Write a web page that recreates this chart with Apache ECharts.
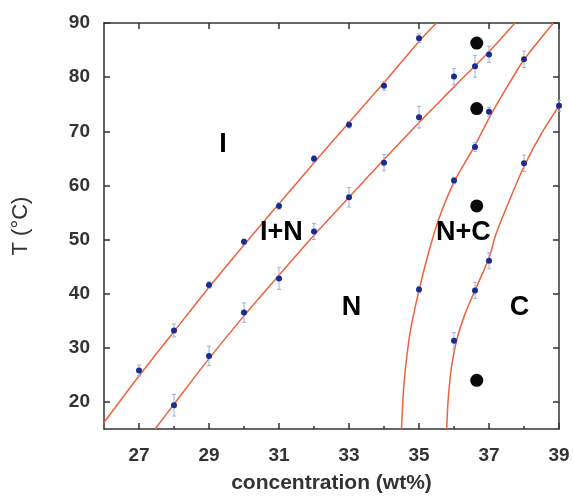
<!DOCTYPE html>
<html>
<head>
<meta charset="utf-8">
<script src="https://cdn.jsdelivr.net/npm/echarts@6/dist/echarts.min.js"></script>
<style>
  html, body { margin: 0; padding: 0; background: #fff; }
  #chart { width: 574px; height: 499px; }
</style>
</head>
<body>
<div id="chart"></div>
<script>
// phase boundaries [concentration, T]
var lineIN = [[26, 16.2], [27, 24.8], [28, 33], [29, 41.2], [30, 49], [31, 56.6], [32, 64.2], [33, 71.6], [34, 79], [35, 86.6], [35.5, 90]];
var lineNI = [[27.46, 15], [28, 19.6], [29, 28], [30, 35.9], [31, 43.4], [32, 50.8], [33, 57.8], [34, 64.8], [35, 71.6], [36, 78.2], [37, 84.7], [37.74, 90]];
var lineNC = [[34.5, 15], [34.58, 24], [34.75, 33], [35, 40.6], [35.25, 47], [35.55, 53.5], [36, 60.6], [36.6, 67.4], [37, 72.4], [37.5, 78], [38, 83.2], [38.84, 90]];
var lineC = [[35.79, 15], [35.84, 21], [35.94, 27], [36.1, 32], [36.33, 36.5], [36.6, 40.6], [37, 46.6], [37.2, 51], [37.6, 57.5], [38, 63.5], [38.5, 69.6], [39, 74.7]];

// measured points: [concentration, T, error]
var measured = [
  [27, 25.8, 1], [28, 33.2, 1.2], [29, 41.6, 0.6], [30, 49.6, 0.5], [31, 56.2, 0.6],
  [32, 64.9, 0.6], [33, 71.2, 0.6], [34, 78.4, 0.8], [35, 87.2, 0.8],
  [28, 19.4, 2], [29, 28.5, 1.8], [30, 36.5, 1.8], [31, 42.8, 2], [32, 51.5, 1.5],
  [33, 57.8, 1.8], [34, 64.2, 1.5], [35, 72.6, 2], [36, 80.1, 1.5], [36.6, 82, 2],
  [37, 84.2, 1.5], [38, 83.3, 1.5],
  [35, 40.75, 0.6], [36, 60.9, 0.6], [36.6, 67.1, 0.8], [37, 73.6, 0.8], [38, 64.1, 1.5],
  [39, 74.7, 1], [36, 31.3, 1.5], [36.6, 40.6, 1.5], [37, 46.1, 1.5]
];

var blackDots = [[36.65, 86.3], [36.65, 74.2], [36.65, 56.2], [36.65, 24]];

var phaseNames = ['I', 'I+N', 'N+C', 'N', 'C'];
var phasePos = [[29.4, 67.5], [31.07, 51.2], [36.27, 51.2], [33.07, 37.4], [37.87, 37.4]];

var xLabels = [27, 29, 31, 33, 35, 37, 39];
var xMinor = [28, 30, 32, 34, 36, 38];
var yLabels = [20, 30, 40, 50, 60, 70, 80, 90];

var chart = echarts.init(document.getElementById('chart'));

var axisColor = '#333';
var lineColor = '#f0603c';

function boundary(data) {
  return {
    type: 'line', data: data, smooth: 0.3, showSymbol: false, symbol: 'none',
    lineStyle: { color: lineColor, width: 1.5 }, z: 2, silent: true
  };
}

chart.setOption({
  animation: false,
  grid: { left: 104, top: 23, right: 15, bottom: 67 },
  xAxis: [
    {
      type: 'value', min: 26, max: 39, position: 'bottom',
      axisLine: { lineStyle: { color: axisColor, width: 1.5 } },
      axisTick: { inside: true, length: 6, customValues: xLabels, lineStyle: { color: axisColor, width: 1.5 } },
      axisLabel: { customValues: xLabels, margin: 17, color: '#333', fontSize: 19, fontWeight: 'bold', fontFamily: 'Liberation Sans, Arial' },
      splitLine: { show: false },
      name: 'concentration (wt%)', nameLocation: 'middle', nameGap: 44,
      nameTextStyle: { color: '#333', fontSize: 21, fontWeight: 'bold', fontFamily: 'Liberation Sans, Arial' }
    },
    {
      type: 'value', min: 26, max: 39, position: 'bottom',
      axisLine: { show: false },
      axisTick: { inside: true, length: 3, customValues: xMinor, lineStyle: { color: axisColor, width: 1.5 } },
      axisLabel: { show: false }, splitLine: { show: false }
    },
    {
      type: 'value', min: 26, max: 39, position: 'top',
      axisLine: { lineStyle: { color: axisColor, width: 1.5 } },
      axisTick: { inside: true, length: 6, customValues: xLabels, lineStyle: { color: axisColor, width: 1.5 } },
      axisLabel: { show: false }, splitLine: { show: false }
    }
  ],
  yAxis: [
    {
      type: 'value', min: 15, max: 90, position: 'left',
      axisLine: { lineStyle: { color: axisColor, width: 1.5 } },
      axisTick: { inside: true, length: 6, customValues: yLabels, lineStyle: { color: axisColor, width: 1.5 } },
      axisLabel: { customValues: yLabels, margin: 14, color: '#333', fontSize: 19, fontWeight: 'bold', fontFamily: 'Liberation Sans, Arial' },
      splitLine: { show: false },
      name: 'T (°C)', nameLocation: 'middle', nameGap: 72, nameRotate: 90,
      nameTextStyle: { color: '#333', fontSize: 22, fontFamily: 'Liberation Sans, Arial' }
    },
    {
      type: 'value', min: 15, max: 90, position: 'right',
      axisLine: { lineStyle: { color: axisColor, width: 1.5 } },
      axisTick: { inside: true, length: 6, customValues: yLabels, lineStyle: { color: axisColor, width: 1.5 } },
      axisLabel: { show: false }, splitLine: { show: false }
    }
  ],
  series: [
    boundary(lineIN), boundary(lineNI), boundary(lineNC), boundary(lineC),
    {
      type: 'custom', z: 3, silent: true,
      data: measured,
      renderItem: function (params, api) {
        var x = api.value(0), y = api.value(1), e = api.value(2);
        var hi = api.coord([x, y + e]);
        var lo = api.coord([x, y - e]);
        var c = 2;
        var st = { stroke: '#9db0d8', lineWidth: 1 };
        return {
          type: 'group',
          children: [
            { type: 'line', shape: { x1: hi[0], y1: hi[1], x2: lo[0], y2: lo[1] }, style: st },
            { type: 'line', shape: { x1: hi[0] - c, y1: hi[1], x2: hi[0] + c, y2: hi[1] }, style: st },
            { type: 'line', shape: { x1: lo[0] - c, y1: lo[1], x2: lo[0] + c, y2: lo[1] }, style: st }
          ]
        };
      }
    },
    {
      type: 'scatter', data: measured, symbol: 'circle', symbolSize: 6, z: 4,
      itemStyle: { color: '#1a2c8c', opacity: 1 }
    },
    {
      type: 'scatter', data: blackDots, symbol: 'circle', symbolSize: 13, z: 4,
      itemStyle: { color: '#0a0a0a', opacity: 1 }
    },
    {
      type: 'scatter', symbolSize: 0, z: 5, silent: true,
      itemStyle: { opacity: 1 },
      data: phasePos.map(function (p, i) { return { value: p, name: phaseNames[i] }; }),
      label: {
        show: true, position: 'inside', formatter: '{b}', opacity: 1,
        color: '#000', fontSize: 27, fontWeight: 'bold', fontFamily: 'Liberation Sans, Arial'
      }
    }
  ]
});
</script>
</body>
</html>
